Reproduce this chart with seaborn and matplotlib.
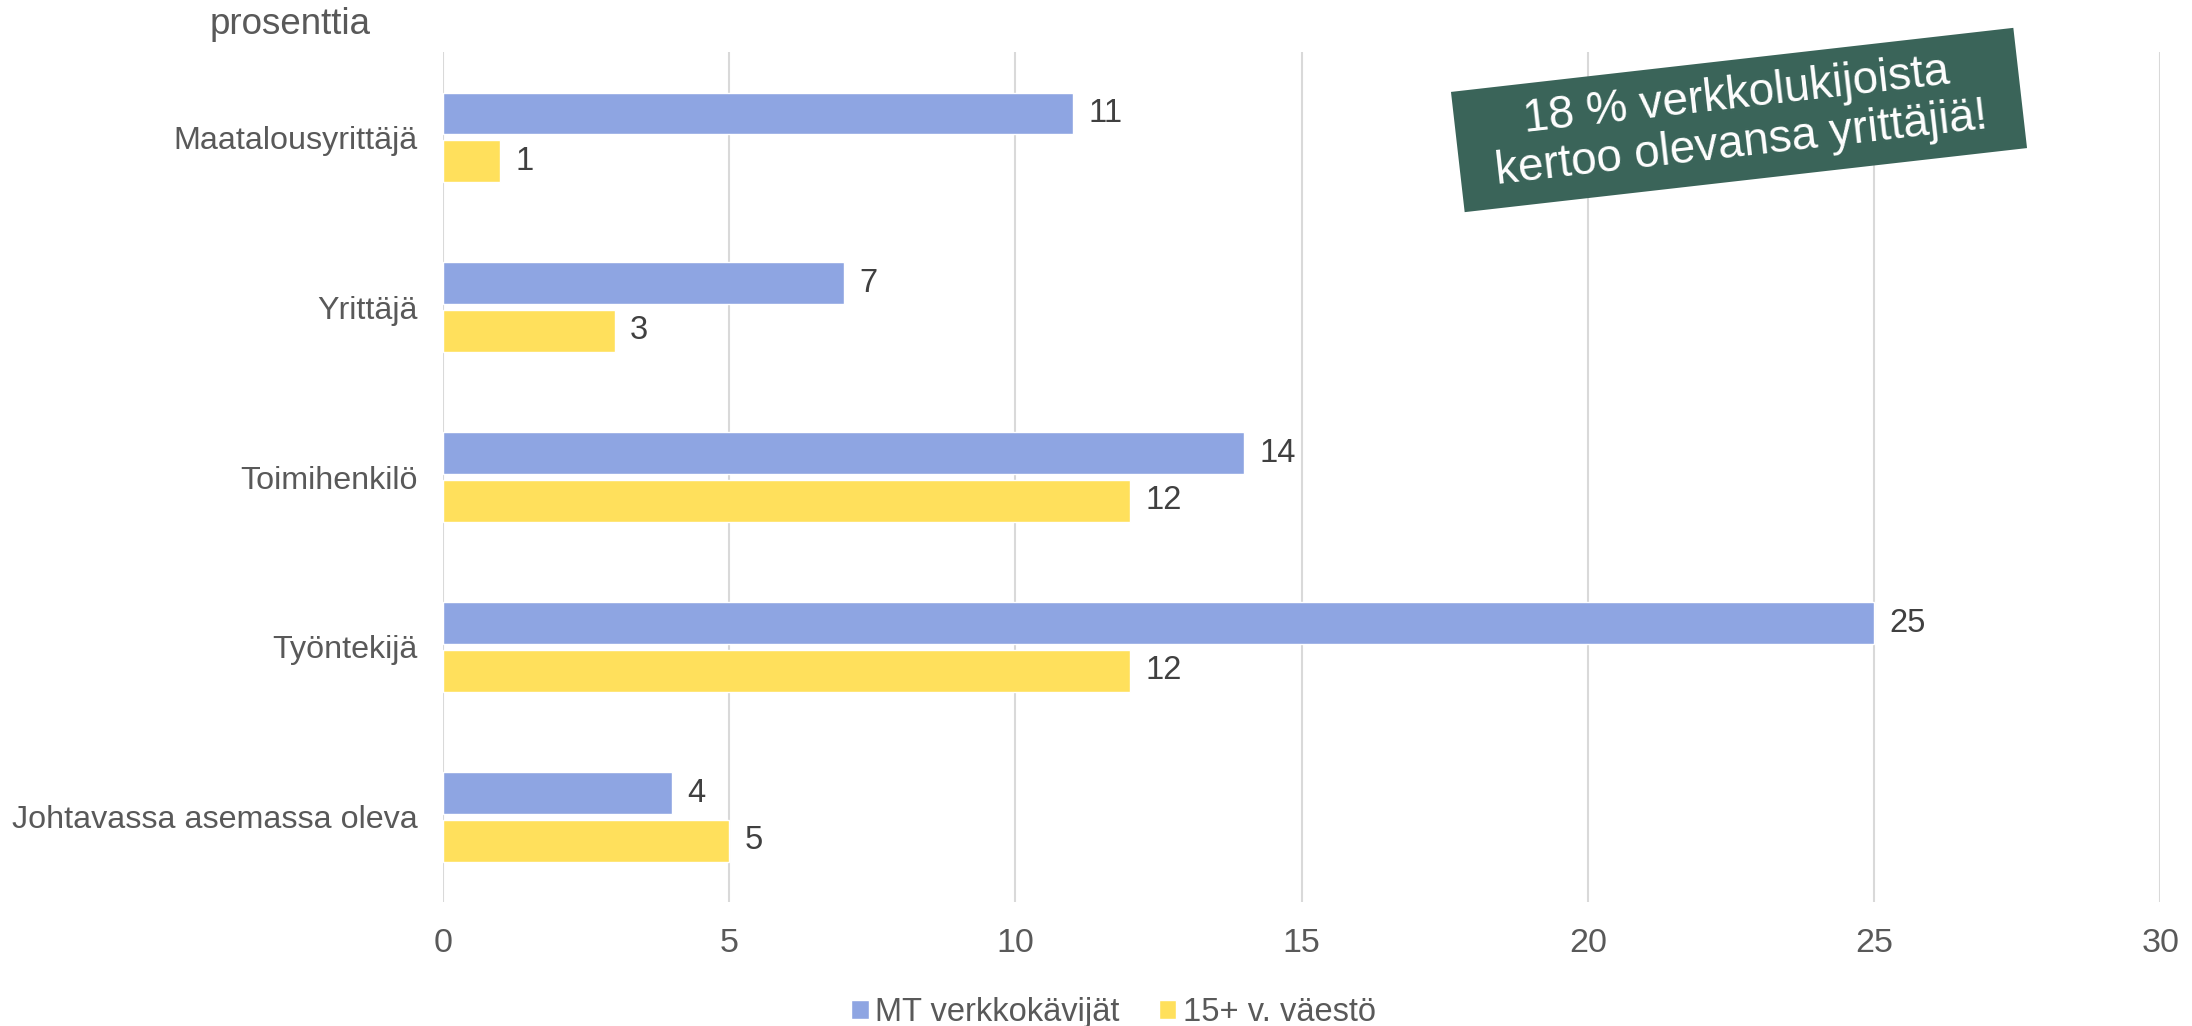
import pandas as pd
import matplotlib.pyplot as plt
import seaborn as sns
from matplotlib.patches import Rectangle
from matplotlib.transforms import Affine2D

sns.set_theme(style="white")
plt.rcParams["font.family"] = ["Liberation Sans", "DejaVu Sans"]


categories = [
    "Maatalousyrittäjä",
    "Yrittäjä",
    "Toimihenkilö",
    "Työntekijä",
    "Johtavassa asemassa oleva"
]

series_names = ["MT verkkokävijät", "15+ v. väestö"]

mt_values = [11, 7, 14, 25, 4]

pop_values = [1, 3, 12, 12, 5]

x_ticks = [0, 5, 10, 15, 20, 25, 30]

colors = ["#8EA5E2", "#FFE05C"]

note_text = "18 % verkkolukijoista\nkertoo olevansa yrittäjiä!"


df = pd.DataFrame({
    "category": categories * 2,
    "series": [series_names[0]] * len(categories) + [series_names[1]] * len(categories),
    "value": mt_values + pop_values
})


fig = plt.figure(figsize=(21.92, 10.26), dpi=100)

ax = fig.add_axes([0.2021, 0.121, 0.7835, 0.828])

sns.barplot(
    data=df,
    y="category",
    x="value",
    hue="series",
    orient="h",
    palette=colors,
    width=0.56,
    saturation=1,
    ax=ax
)

# slightly thinner bars with a small gap
for p in ax.patches:
    h = p.get_height()
    if h > 0:
        p.set_y(p.get_y() + (h - 0.246) / 2)
        p.set_height(0.246)

for c in ax.containers:
    ax.bar_label(
        c,
        labels=[f"{v:.0f}" for v in c.datavalues],
        padding=11,
        fontsize=23.5,
        color="#404040"
    )

handles, labels = ax.get_legend_handles_labels()
ax.get_legend().remove()

ax.set_xlim(0, 30)
ax.set_ylim(4.5, -0.5)
ax.set_xticks(x_ticks)
ax.set_xlabel("")
ax.set_ylabel("")

ax.grid(axis="x", color="#D9D9D9", linewidth=1.5)
ax.set_axisbelow(True)

for s in ax.spines.values():
    s.set_visible(False)

ax.tick_params(axis="x", length=0, pad=19, labelsize=24.5, labelcolor="#595959")
ax.tick_params(axis="y", length=0, pad=18, labelsize=23.2, labelcolor="#595959")

fig.text(
    210 / 2192,
    1 - 25 / 1026,
    "prosenttia",
    fontsize=26.5,
    color="#595959",
    va="center",
    ha="left"
)

fig.legend(
    handles,
    labels,
    loc="center",
    bbox_to_anchor=(0.508, 0.013),
    ncol=2,
    frameon=False,
    fontsize=23.5,
    handlelength=0.53,
    handleheight=0.53,
    handletextpad=0.2,
    columnspacing=1.2,
    labelcolor="#595959"
)

# rotated note box (pixel coordinates)
cx, cy = 1739, 1026 - 120
box = Rectangle(
    (-283, -60.5),
    566,
    121,
    facecolor="#3A6459",
    edgecolor="none",
    transform=Affine2D().rotate_deg(6.5).translate(cx, cy)
)
fig.add_artist(box)

fig.text(
    cx / 2192,
    cy / 1026,
    note_text,
    fontsize=33,
    color="white",
    ha="center",
    va="center",
    multialignment="center",
    rotation=6.5,
    rotation_mode="anchor",
    linespacing=1.12
)

plt.savefig("out.png", dpi=100)

plt.close()

print("[OK] out.png")
